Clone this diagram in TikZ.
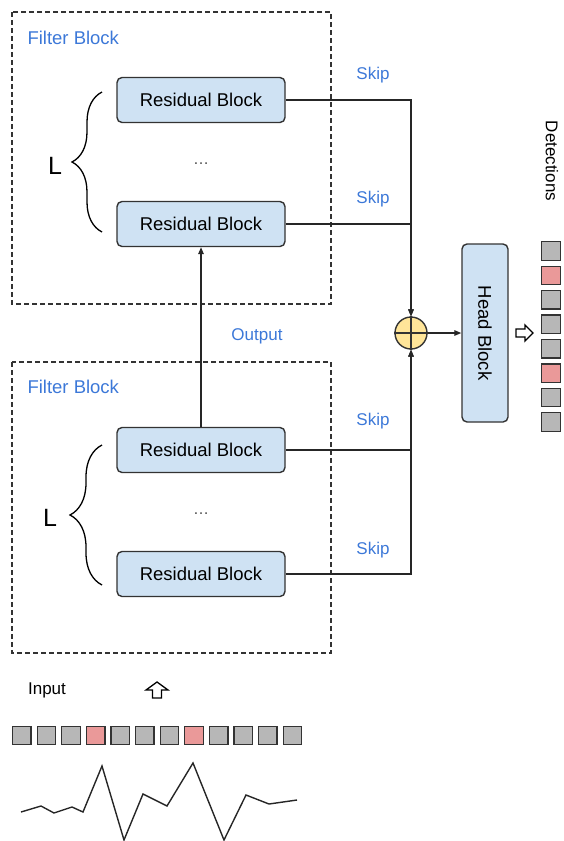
\documentclass[tikz,border=0pt]{standalone}
\usepackage{fontspec}
\setmainfont{Liberation Sans}
\usepackage{tikz}
\usetikzlibrary{arrows.meta}
\usetikzlibrary{decorations.pathreplacing}

\definecolor{boxblue}{HTML}{CFE2F3}
\definecolor{sumyellow}{HTML}{FFE599}
\definecolor{textblue}{HTML}{3C78D8}
\definecolor{cellgray}{HTML}{B7B7B7}
\definecolor{cellred}{HTML}{EA9999}
\definecolor{edgegray}{HTML}{333333}

\begin{document}
\begin{tikzpicture}[x=1pt, y=-1pt,
    resblock/.style={draw=edgegray, line width=1.4pt, fill=boxblue, rounded corners=5pt,
      minimum width=168pt, minimum height=45pt, font=\fontsize{18.5}{20}\selectfont},
    frame/.style={draw=edgegray, line width=1.3pt, dash pattern=on 5pt off 3pt},
    bluetext/.style={text=textblue, font=\fontsize{17}{19}\selectfont},
    conn/.style={draw=black!85, line width=1.3pt, -{Triangle[length=7pt, width=5.5pt]}},
    cell/.style={draw=edgegray, line width=1.3pt, minimum size=18.5pt, inner sep=0pt},
    hollow/.style={draw=black, line width=1.3pt, fill=white, line join=miter}]
      \useasboundingbox (0, 0) rectangle (563, 841);

      % filter blocks
      \draw[frame] (12, 12) rectangle (331, 304);
      \draw[frame] (12, 362) rectangle (331, 653);
      \node[bluetext, anchor=west, font=\fontsize{18.5}{20}\selectfont] (f1) at (24, 38){Filter Block};
      \node[bluetext, anchor=west, font=\fontsize{18.5}{20}\selectfont] (f2) at (24, 387){Filter Block};

      \node[resblock] (rb1) at (201, 100){Residual Block};
      \node[resblock] (rb2) at (201, 224){Residual Block};
      \node[resblock] (rb3) at (201, 450){Residual Block};
      \node[resblock] (rb4) at (201, 574){Residual Block};
      \node[font=\fontsize{16}{18}\selectfont, text=black!70] (d1) at (201, 164){…};
      \node[font=\fontsize{16}{18}\selectfont, text=black!70] (d2) at (201, 514){…};

      % layer count
      \draw[line width=1.3pt, decorate, decoration={brace, amplitude=30pt}] (102, 232) -- (102, 92);
      \draw[line width=1.3pt, decorate, decoration={brace, amplitude=32pt}] (102, 585) -- (102, 445);
      \node[font=\fontsize{25}{27}\selectfont] (l1) at (55, 166){L};
      \node[font=\fontsize{25}{27}\selectfont] (l2) at (50, 518){L};

      % sum and head
      \node[circle, draw=edgegray, line width=1.4pt, fill=sumyellow, minimum size=32pt, inner sep=0pt] (sum) at (411, 333){};
      \draw[edgegray, line width=1.3pt] (sum.north) -- (sum.south) (sum.west) -- (sum.east);
      \node[resblock, rotate=-90, minimum width=178pt, minimum height=46pt] (head) at (485, 333){Head Block};

      \draw[conn] (rb1.east) -| (sum.north);
      \draw[conn] (rb2.east) -| (sum.north);
      \draw[conn] (rb3.east) -| (sum.south);
      \draw[conn] (rb4.east) -| (sum.south);
      \draw[conn] (rb3.north) -- (rb2.south);
      \draw[conn] (sum) -- (head);

      \node[bluetext] (s1) at (373, 75){Skip};
      \node[bluetext] (s2) at (373, 199){Skip};
      \node[bluetext] (s3) at (373, 421){Skip};
      \node[bluetext] (s4) at (373, 550){Skip};
      \node[bluetext] (out) at (257, 336){Output};

      % detections
      \node[rotate=-90, font=\fontsize{17}{19}\selectfont] (det) at (552, 161){Detections};
      \draw[hollow] (516, 329) -- (525, 329) -- (525, 325) -- (533, 333) -- (525, 341)
        -- (525, 337) -- (516, 337) -- cycle;
      \foreach \c [count=\i] in {cellgray, cellred, cellgray, cellgray, cellgray, cellred, cellgray, cellgray}
        \node[cell, fill=\c] (o\i) at (551, {251 + 24.43*(\i-1)}){};

      % input
      \node[font=\fontsize{17}{19}\selectfont] (inp) at (47, 690){Input};
      \draw[hollow] (152.5, 698) -- (152.5, 690) -- (146, 690) -- (157, 682) -- (168, 690)
        -- (161.5, 690) -- (161.5, 698) -- cycle;
      \foreach \c [count=\i] in {cellgray, cellgray, cellgray, cellred, cellgray, cellgray,
          cellgray, cellred, cellgray, cellgray, cellgray, cellgray}
        \node[cell, fill=\c] (x\i) at ({21.8 + 24.6*(\i-1)}, 735.5){};

      \draw[black!85, line width=1.4pt, line join=miter] plot coordinates {(21, 812) (41, 806) (54, 813)
        (72, 807) (83, 812) (102, 766) (124, 840) (143, 794) (167, 806) (193, 763)
        (224, 840) (246, 795) (269, 804) (297, 800)};
    \end{tikzpicture}
\end{document}
